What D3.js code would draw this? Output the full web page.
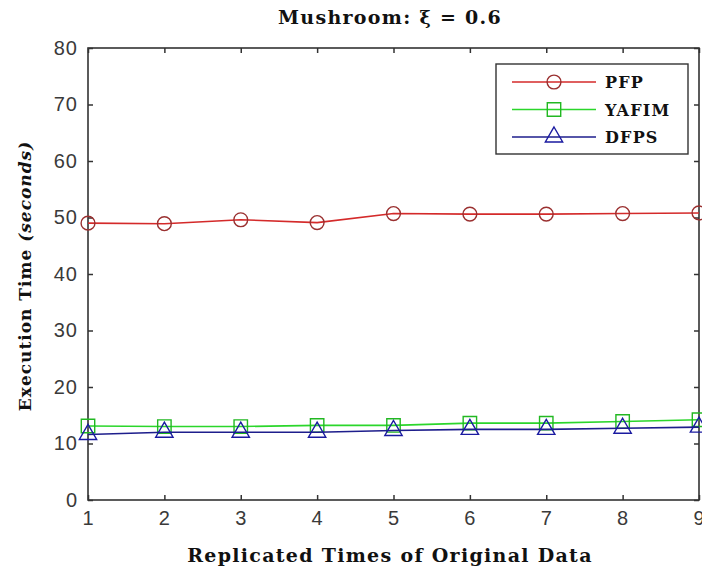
<!DOCTYPE html>
<html>
<head>
<meta charset="utf-8">
<script src="https://cdn.jsdelivr.net/npm/d3@7"></script>
<style>
  body { margin: 0; background: #fff; }
  .tick text { font-family: "Liberation Sans", Arial, sans-serif; font-size: 20px; fill: #3a3a3a; letter-spacing: 1px; }
  .lbl { font-family: "DejaVu Serif", "Liberation Serif", serif; font-weight: bold; fill: #111; }
</style>
</head>
<body>
<svg id="chart" width="702" height="571"></svg>
<script>
// data
const replicas = [1, 2, 3, 4, 5, 6, 7, 8, 9];
const pfp   = [49.0, 48.9, 49.6, 49.1, 50.7, 50.6, 50.6, 50.7, 50.8];
const yafim = [13.1, 13.0, 13.0, 13.2, 13.2, 13.6, 13.6, 13.9, 14.2];
const dfps  = [11.6, 12.0, 12.0, 12.0, 12.3, 12.5, 12.5, 12.7, 12.9];
const yTicks = [0, 10, 20, 30, 40, 50, 60, 70, 80];

const series = [
  { name: "PFP",   values: pfp,   line: "#d42a2a", mark: "#9a3030", shape: "circle" },
  { name: "YAFIM", values: yafim, line: "#2bd62b", mark: "#22b822", shape: "square" },
  { name: "DFPS",  values: dfps,  line: "#1e1e8c", mark: "#1a1aa0", shape: "triangle" }
];

const margin = { top: 48, right: 3, bottom: 71, left: 88 };
const svg = d3.select("#chart");
const W = +svg.attr("width"), H = +svg.attr("height");
const w = W - margin.left - margin.right, h = H - margin.top - margin.bottom;

const x = d3.scaleLinear().domain([1, 9]).range([0, w]);
const y = d3.scaleLinear().domain([0, 80]).range([h, 0]);

const g = svg.append("g").attr("transform", `translate(${margin.left},${margin.top})`);

// axes with inward ticks on all four sides
const axStyle = sel => {
  sel.select(".domain").remove();
  sel.selectAll(".tick line").attr("stroke", "#333").attr("stroke-width", 1.5);
};
g.append("g").attr("transform", `translate(0,${h})`)
  .call(d3.axisBottom(x).tickValues(replicas).tickSizeInner(-5).tickSizeOuter(0).tickPadding(11).tickFormat(d3.format("d")))
  .call(axStyle);
g.append("g")
  .call(d3.axisLeft(y).tickValues(yTicks).tickSizeInner(-5).tickSizeOuter(0).tickPadding(10))
  .call(axStyle);
g.append("g")
  .call(d3.axisTop(x).tickValues(replicas).tickSizeInner(-5).tickSizeOuter(0).tickFormat(""))
  .call(axStyle);
g.append("g").attr("transform", `translate(${w},0)`)
  .call(d3.axisRight(y).tickValues(yTicks).tickSizeInner(-5).tickSizeOuter(0).tickFormat(""))
  .call(axStyle);
g.append("rect").attr("width", w).attr("height", h)
  .attr("fill", "none").attr("stroke", "#333").attr("stroke-width", 1.6);

// markers
const sym = {
  circle: d3.symbol().type(d3.symbolCircle).size(150),
  square: d3.symbol().type(d3.symbolSquare).size(180),
  triangle: d3.symbol().type(d3.symbolTriangle).size(130)
};

const line = d3.line().x((d, i) => x(replicas[i])).y(d => y(d));

series.forEach(s => {
  g.append("path").datum(s.values)
    .attr("fill", "none").attr("stroke", s.line).attr("stroke-width", 1.6)
    .attr("d", line);
  g.selectAll(null).data(s.values).join("path")
    .attr("transform", (d, i) => `translate(${x(replicas[i])},${y(d)})`)
    .attr("d", sym[s.shape])
    .attr("fill", "none").attr("stroke", s.mark).attr("stroke-width", 1.4);
});

// legend
const lg = svg.append("g").attr("transform", "translate(496,64)");
lg.append("rect").attr("width", 192).attr("height", 90)
  .attr("fill", "#fff").attr("stroke", "#333").attr("stroke-width", 1.4);
series.forEach((s, i) => {
  const yy = 18 + i * 27.5;
  lg.append("line").attr("x1", 16).attr("x2", 100).attr("y1", yy).attr("y2", yy)
    .attr("stroke", s.line).attr("stroke-width", 1.6);
  lg.append("path").attr("transform", `translate(58,${yy})`).attr("d", sym[s.shape])
    .attr("fill", "none").attr("stroke", s.mark).attr("stroke-width", 1.4);
  lg.append("text").attr("class", "lbl").attr("x", 109).attr("y", yy + 6)
    .style("font-size", "16px").style("letter-spacing", "1.2px").text(s.name);
});

// titles
svg.append("text").attr("class", "lbl").attr("x", 390).attr("y", 24)
  .attr("text-anchor", "middle").style("font-size", "19px").style("letter-spacing", "1.3px")
  .text("Mushroom: ξ = 0.6");
svg.append("text").attr("class", "lbl").attr("x", 390).attr("y", 562)
  .attr("text-anchor", "middle").style("font-size", "19px").style("letter-spacing", "1.3px")
  .text("Replicated Times of Original Data");
const yl = svg.append("text").attr("class", "lbl")
  .attr("transform", `translate(31,${margin.top + h / 2 + 2}) rotate(-90)`)
  .attr("text-anchor", "middle").style("font-size", "17px").style("letter-spacing", "1px");
yl.append("tspan").text("Execution Time ");
yl.append("tspan").style("font-style", "italic").text("(seconds)");
</script>
</body>
</html>
